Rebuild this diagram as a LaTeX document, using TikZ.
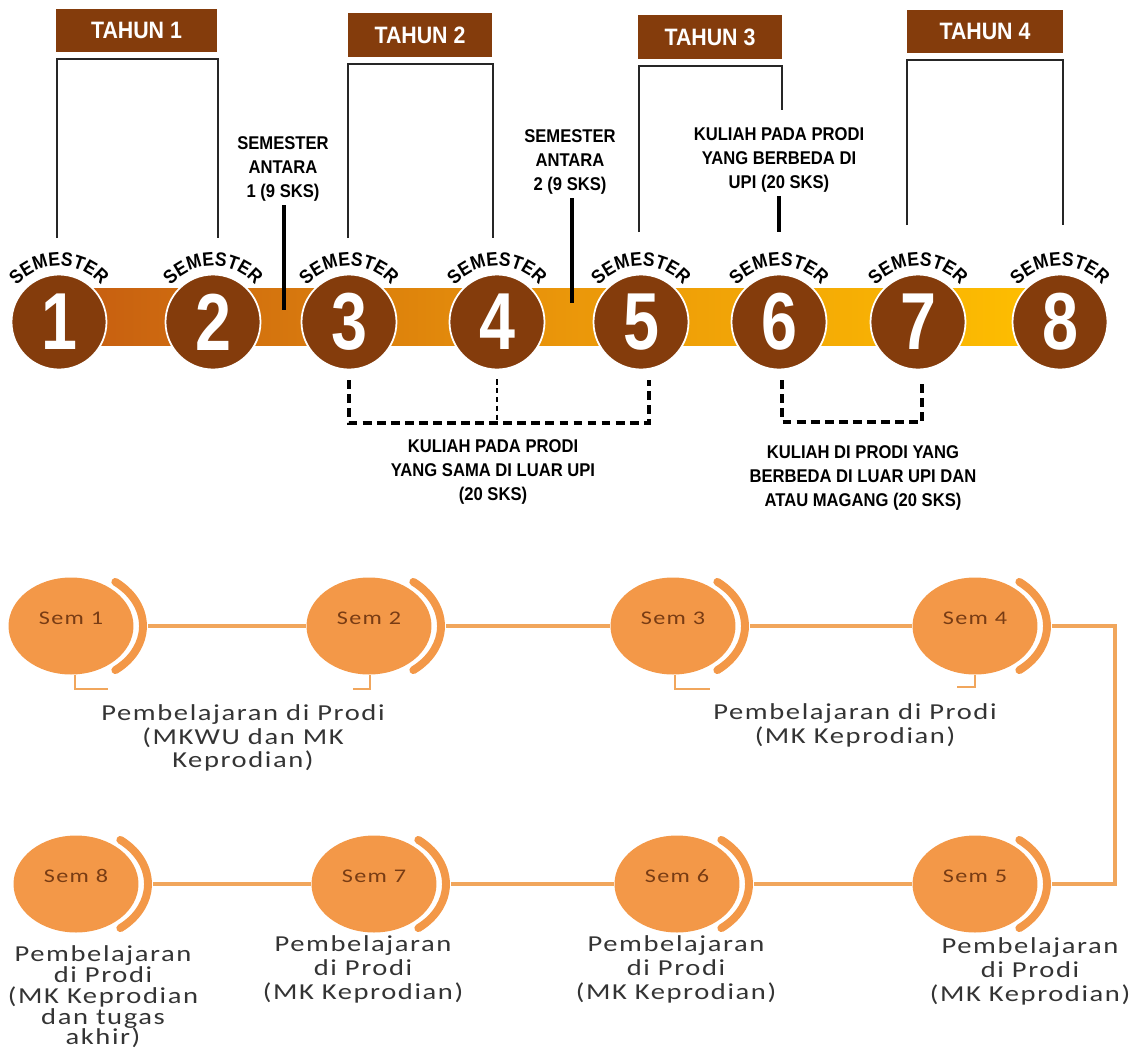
\documentclass[tikz,border=0pt]{standalone}
\usepackage{fontspec}
\usepackage{xcolor}
\usetikzlibrary{shapes.geometric, decorations.text, backgrounds}
\newfontfamily\narrowfont{Liberation Sans}[FakeStretch=0.9]
\newfontfamily\digitfont{Liberation Sans}[FakeStretch=0.8]
\newfontfamily\softfont{Carlito}[FakeStretch=1.25, LetterSpace=7]

\definecolor{semBrown}{RGB}{132,60,12}
\definecolor{barLeft}{RGB}{197,92,17}
\definecolor{barMid}{RGB}{234,150,10}
\definecolor{barRight}{RGB}{255,192,0}
\definecolor{semOrange}{RGB}{243,152,72}
\definecolor{linkOrange}{RGB}{241,166,92}
\definecolor{semText}{RGB}{120,60,20}
\definecolor{labelGray}{RGB}{52,52,52}

\tikzstyle{year}        = [fill=semBrown, text=white, minimum height=0.87cm, inner sep=0pt, font=\narrowfont\bfseries\fontsize{13.5}{14}\selectfont]
\tikzstyle{semester}    = [circle, fill=semBrown, draw=white, line width=1pt, minimum size=1.9cm, inner sep=0pt, text=white, font=\digitfont\bfseries\fontsize{46}{46}\selectfont]
\tikzstyle{note}        = [align=center, inner sep=2pt, font=\narrowfont\bfseries\fontsize{10.5}{13.6}\selectfont]
\tikzstyle{bracket}     = [line width=1.1pt, color=black!85]
\tikzstyle{pointer}     = [line width=2.5pt]
\tikzstyle{dashbracket} = [line width=2pt, dash pattern=on 5pt off 3pt]
\tikzstyle{dashthin}    = [line width=1pt, dash pattern=on 3pt off 2pt]
\tikzstyle{oval}        = [ellipse, fill=semOrange, minimum width=2.5cm, minimum height=1.94cm, inner sep=0pt, text=semText, text height=7pt, text depth=8.5pt, font=\softfont\fontsize{11}{11}\selectfont]
\tikzstyle{rim}         = [line width=4.5pt, color=semOrange, line cap=round]
\tikzstyle{link}        = [line width=2.2pt, color=linkOrange]
\tikzstyle{hook}        = [line width=1.3pt, color=linkOrange]
\tikzstyle{plan}        = [align=center, text=labelGray, font=\softfont\fontsize{13}{13.6}\selectfont]

\begin{document}
\begin{tikzpicture}[x=0.02cm, y=0.02cm]
\useasboundingbox (0,0) rectangle (1136,-1059);

% semester line
\node[semester] (S1) at (59,-322)   {1};
\node[semester] (S2) at (213,-322)  {2};
\node[semester] (S3) at (349,-322)  {3};
\node[semester] (S4) at (497,-322)  {4};
\node[semester] (S5) at (641,-322)  {5};
\node[semester] (S6) at (779,-322)  {6};
\node[semester] (S7) at (918,-322)  {7};
\node[semester] (S8) at (1060,-322) {8};

\begin{scope}[on background layer]
\shade[left color=barLeft, right color=barRight, middle color=barMid] ([yshift=0.68cm]S1.center) rectangle ([yshift=-0.46cm]S8.center);
\end{scope}

\foreach \n in {1,...,8}
  \path[decorate, decoration={text along path, text align=center, text={|\narrowfont\bfseries\fontsize{11}{11}\selectfont|SEMESTER}}]
    (S\n.center) ++(160:1.12cm) arc[start angle=160, end angle=20, radius=1.12cm];

% years
\node[year, minimum width=3.22cm] (T1) at (136.5,-30.5) {TAHUN 1};
\node[year, minimum width=2.88cm] (T2) at (420,-35)     {TAHUN 2};
\node[year, minimum width=2.88cm] (T3) at (710,-37)     {TAHUN 3};
\node[year, minimum width=3.12cm] (T4) at (985,-31.5)   {TAHUN 4};

\coordinate (T1a) at (57,-238);  \coordinate (T1b) at (218,-238);
\coordinate (T2a) at (348,-238); \coordinate (T2b) at (493,-238);
\coordinate (T3a) at (639,-232); \coordinate (T3b) at (782,-110);
\coordinate (T4a) at (907,-225); \coordinate (T4b) at (1063,-225);

\draw[bracket] (T1a) |- ([yshift=-0.13cm]T1.south) -| (T1b);
\draw[bracket] (T2a) |- ([yshift=-0.13cm]T2.south) -| (T2b);
\draw[bracket] (T3a) |- ([yshift=-0.13cm]T3.south) -| (T3b);
\draw[bracket] (T4a) |- ([yshift=-0.13cm]T4.south) -| (T4b);

% notes above the line
\node[note] (A1) at (283,-169) {SEMESTER\\ANTARA\\1 (9 SKS)};
\node[note] (A2) at (570,-162) {SEMESTER\\ANTARA\\2 (9 SKS)};
\node[note] (K1) at (779,-160) {KULIAH PADA PRODI\\YANG BERBEDA DI\\UPI (20 SKS)};

\coordinate (A1f) at (284,-310);
\coordinate (A2f) at (572,-303);
\coordinate (K1f) at (779,-232);

\draw[pointer] (A1.south -| A1f) -- (A1f);
\draw[pointer] (A2.south -| A2f) -- (A2f);
\draw[pointer] (K1.south -| K1f) -- (K1f);

% notes below the line
\draw[dashbracket] ([yshift=-0.2cm]S3.south) |- ([xshift=0.16cm,yshift=-1.05cm]S5.south) -- ([xshift=0.16cm,yshift=-0.2cm]S5.south);
\draw[dashthin] ([yshift=-0.18cm]S4.south) -- ([yshift=-1.05cm]S4.south);
\draw[dashbracket] ([xshift=0.06cm,yshift=-0.2cm]S6.south) |- ([xshift=0.08cm,yshift=-1.03cm]S7.south) -- ([xshift=0.08cm,yshift=-0.2cm]S7.south);

\node[note] (K2) at (493,-472) {KULIAH PADA PRODI\\YANG SAMA DI LUAR UPI\\(20 SKS)};
\node[note] (K3) at (863,-478) {KULIAH DI PRODI YANG\\BERBEDA DI LUAR UPI DAN\\ATAU MAGANG (20 SKS)};

% semester path
\node[oval] (O1) at (71,-626)  {Sem 1};
\node[oval] (O2) at (369,-626) {Sem 2};
\node[oval] (O3) at (673,-626) {Sem 3};
\node[oval] (O4) at (975,-626) {Sem 4};
\node[oval] (O5) at (975,-884) {Sem 5};
\node[oval] (O6) at (677,-884) {Sem 6};
\node[oval] (O7) at (374,-884) {Sem 7};
\node[oval] (O8) at (76,-884)  {Sem 8};

\foreach \n in {1,...,8}
  \draw[rim] (O\n.center) ++(52:1.44cm and 1.12cm) arc[start angle=52, end angle=-52, x radius=1.44cm, y radius=1.12cm];

\coordinate (Turn) at (1115,-626);

\draw[link, shorten <=0.28cm] (O1.east) -- (O2.west);
\draw[link, shorten <=0.28cm] (O2.east) -- (O3.west);
\draw[link, shorten <=0.28cm] (O3.east) -- (O4.west);
\draw[link, shorten <=0.28cm, shorten >=0.28cm] (O4.east) -- (Turn) |- (O5.east);
\draw[link, shorten >=0.28cm] (O5.west) -- (O6.east);
\draw[link, shorten >=0.28cm] (O6.west) -- (O7.east);
\draw[link, shorten >=0.28cm] (O7.west) -- (O8.east);

\draw[hook] ([xshift=0.08cm]O1.south) -- ++(0,-14) -- ++(33,0);
\draw[hook] ([xshift=0.02cm]O2.south) -- ++(0,-14) -- ++(-17,0);
\draw[hook] ([xshift=0.04cm]O3.south) -- ++(0,-14) -- ++(35,0);
\draw[hook] (O4.south) -- ++(0,-12) -- ++(-18,0);

\node[plan] (P12) at (243,-738) {Pembelajaran di Prodi\\(MKWU dan MK\\Keprodian)};
\node[plan] (P34) at (855,-725) {Pembelajaran di Prodi\\(MK Keprodian)};
\node[plan] (P5)  at (1030,-971) {Pembelajaran\\di Prodi\\(MK Keprodian)};
\node[plan] (P6)  at (676,-969) {Pembelajaran\\di Prodi\\(MK Keprodian)};
\node[plan] (P7)  at (363,-969) {Pembelajaran\\di Prodi\\(MK Keprodian)};
\node[plan, font=\softfont\fontsize{13}{11.8}\selectfont] (P8) at (103,-997) {Pembelajaran\\di Prodi\\(MK Keprodian\\dan tugas\\akhir)};

\end{tikzpicture}
\end{document}
